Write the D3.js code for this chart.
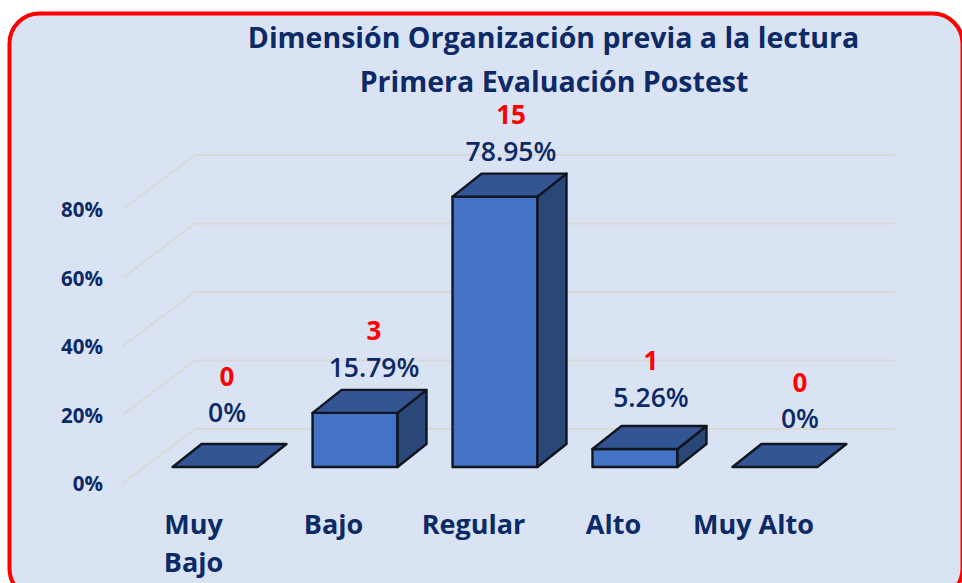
<!DOCTYPE html>
<html><head><meta charset="utf-8">
<script src="https://cdn.jsdelivr.net/npm/d3@7/dist/d3.min.js"></script>
<style>html,body{margin:0;padding:0;background:#fff;overflow:hidden}svg{display:block}text{font-family:"Open Sans",sans-serif}</style>
</head><body><svg id="c" width="962" height="583"></svg>
<script>
const titleLines = ["Dimensión Organización previa a la lectura", "Primera Evaluación Postest"];
const categories = ["Muy Bajo", "Bajo", "Regular", "Alto", "Muy Alto"];
const percents = [0, 15.79, 78.95, 5.26, 0];
const percentLabels = ["0%", "15.79%", "78.95%", "5.26%", "0%"];
const counts = [0, 3, 15, 1, 0];
const yTicks = [0, 20, 40, 60, 80];

// layout
const labelLift = [32, 23, 23, 29, 26];
const labelShift = [-17, -10, -13, -13, -4];
const dx = 29, dy = 23;
const backDx = 72, backDy = 54;
const navy = "#0b2a66";

const svg = d3.select("#c");
svg.append("rect").attr("x",9.5).attr("y",13.5).attr("width",953).attr("height",585).attr("rx",30)
  .attr("fill","#dae3f3").attr("stroke","#ff0000").attr("stroke-width",4);

const x = d3.scaleBand().domain(categories).range([145,845]).paddingInner(0.393).paddingOuter(0.197);
const yFront = d3.scaleLinear().domain([0,100]).range([483,140.5]);
const yBar = d3.scaleLinear().domain([0,100]).range([467,124.5]);

// gridlines (side wall + back wall)
const grid = svg.append("g");
yTicks.forEach(t=>{
  const y0 = yFront(t);
  grid.append("path").attr("d",d3.line()([[123,y0],[123+backDx,y0-backDy],[895,y0-backDy]]))
    .attr("fill","none").attr("stroke","#d9d9d6").attr("stroke-width",2);
});

// axis
const axis = svg.append("g").attr("transform","translate(110,1)")
  .call(d3.axisLeft(yFront).tickValues(yTicks).tickFormat(d=>d+"%").tickSize(0).tickPadding(7));
axis.select(".domain").remove();
axis.selectAll("text").attr("fill",navy).attr("font-size",20.5).attr("font-weight",700).attr("dy","0.34em")
  .style("font-family",'"Open Sans",sans-serif');

// bars
const bars = svg.append("g").attr("stroke","#10151f").attr("stroke-width",2.4).attr("stroke-linejoin","round");
categories.forEach((c,i)=>{
  const l = x(c), r = l + x.bandwidth(), b = yBar(0), t = yBar(percents[i]);
  const poly = (pts,fill)=>bars.append("polygon").attr("points",pts.map(p=>p.join(",")).join(" ")).attr("fill",fill);
  if (percents[i] > 0) {
    poly([[l,t],[r,t],[r,b],[l,b]],"#4472c4");
    poly([[r,t],[r+dx,t-dy],[r+dx,b-dy],[r,b]],"#2a4779");
  }
  poly([[l,t],[r,t],[r+dx,t-dy],[l+dx,t-dy]],"#335593");
});

// data labels
const labels = svg.append("g").attr("text-anchor","middle");
categories.forEach((c,i)=>{
  const cx = x(c)+x.bandwidth()/2+dx+labelShift[i];
  const top = yBar(percents[i])-dy-labelLift[i];
  labels.append("text").attr("x",cx).attr("y",top+10).attr("fill",navy).attr("font-size",26.5).attr("font-weight",600).text(percentLabels[i]);
  labels.append("text").attr("x",cx).attr("y",top-26.5).attr("fill","#ff0000").attr("font-size",26).attr("font-weight",700).text(counts[i]);
});

// category labels
const cats = svg.append("g").attr("text-anchor","middle").attr("fill",navy).attr("font-size",27).attr("font-weight",700);
categories.forEach((c,i)=>{
  const cx = x(c)+x.bandwidth()/2-21.5;
  const lines = c==="Muy Bajo" ? c.split(" ") : [c];
  lines.forEach((s,k)=>cats.append("text").attr("x",cx).attr("y",534+k*38).text(s));
});

// title
const tg = svg.append("g").attr("text-anchor","middle").attr("fill",navy).attr("font-size",28.5).attr("font-weight",700);
titleLines.forEach((s,i)=>tg.append("text").attr("x",i?554:553.5).attr("y",48+i*44).text(s));
</script></body></html>
